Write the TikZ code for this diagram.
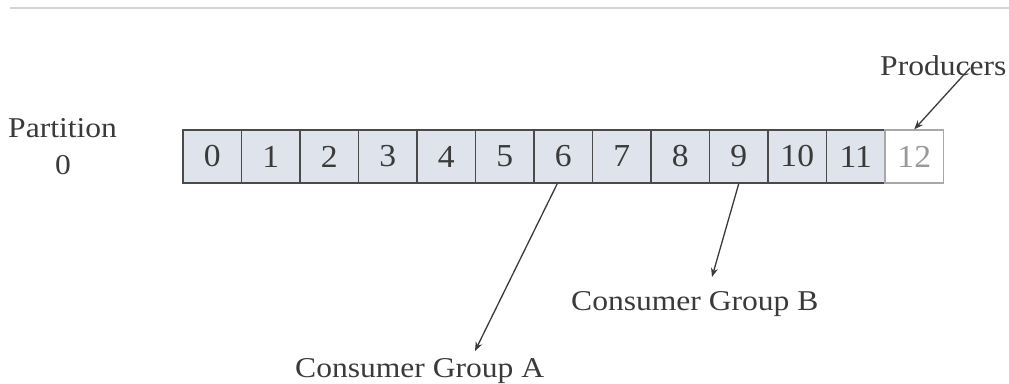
\documentclass[tikz,border=0pt]{standalone}
\usepackage{fontspec}
\setmainfont{Liberation Serif}
\newfontfamily\lblfont{Liberation Serif}[FakeStretch=1.1]
\newfontfamily\numfont{Liberation Serif}[FakeStretch=1.05]
\usetikzlibrary{arrows.meta,calc}
\definecolor{cellfill}{HTML}{DFE3EC}
\definecolor{celldraw}{HTML}{4A4A4A}
\definecolor{txt}{HTML}{3A3A3A}
\definecolor{rulegray}{HTML}{D4D4D4}
\definecolor{lightdraw}{HTML}{A8A8A8}
\definecolor{lighttxt}{HTML}{999999}
\tikzset{
  cell/.style={draw=celldraw, fill=cellfill, line width=1.4pt, minimum width=58.5pt, minimum height=53pt, inner sep=0pt, text=txt, font=\numfont\fontsize{32}{38}\selectfont},
  emptycell/.style={cell, draw=lightdraw, fill=white, text=lighttxt},
  lbl/.style={inner sep=0pt, text=txt, font=\lblfont\fontsize{28.7}{34}\selectfont},
  arr/.style={draw=txt, line width=1.3pt, -{Stealth[length=9pt,width=7pt]}}
}
\begin{document}
\begin{tikzpicture}[x=1pt,y=-1pt]
\useasboundingbox (0,0) rectangle (1009,383);
\draw[rulegray, line width=2.5pt] (10,8) -- (1009,8);
\foreach \i in {0,...,11} {
  \node[cell] (b\i) at ({183+58.5*(\i+0.5)},156.5) {\i};
}
\node[emptycell] (b12) at ({183+58.5*12.5},156.5) {12};
\node[lbl, anchor=base west] (part) at (8,137) {Partition};
\node[lbl, anchor=base] (partnum) at (63,174) {0};
\node[lbl, anchor=base west] (prod) at (880,75) {Producers};
\node[lbl, anchor=base west] (cgb) at (571,310) {Consumer Group B};
\node[lbl, anchor=base west] (cga) at (295,377) {Consumer Group A};
\coordinate (prodstart) at (970,68);
\coordinate (aend) at (475,351);
\coordinate (bend) at (712,277);
\draw[arr] (prodstart) -- (b12.north);
\draw[arr] ($(b6.south)+(-6,0)$) -- (aend);
\draw[arr] (b9.south) -- (bend);
\end{tikzpicture}
\end{document}
